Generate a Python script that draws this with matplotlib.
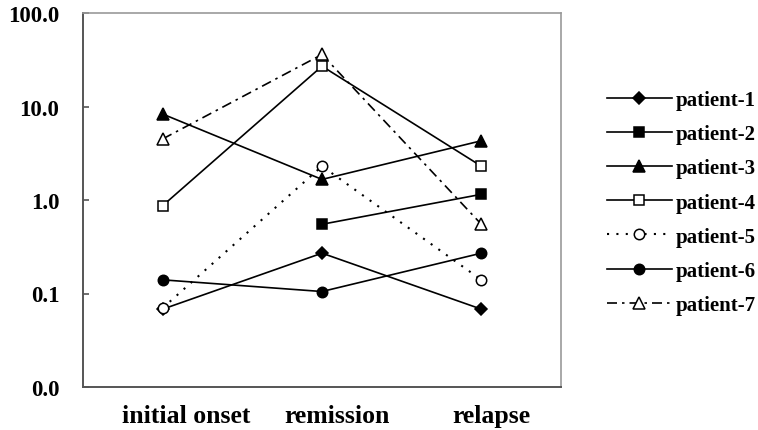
import matplotlib
matplotlib.use("Agg")
import matplotlib.pyplot as plt
import matplotlib.transforms as mtransforms
from matplotlib.ticker import FixedLocator, FixedFormatter, NullLocator

categories = ["initial onset", "remission", "relapse"]
patient_1 = [0.068, 0.27, 0.068]
patient_2 = [None, 0.55, 1.15]
patient_3 = [8.3, 1.66, 4.3]
patient_4 = [0.87, 27.0, 2.3]
patient_5 = [0.07, 2.3, 0.14]
patient_6 = [0.14, 0.105, 0.27]
patient_7 = [4.5, 36.0, 0.55]
ytick_values = [0.01, 0.1, 1, 10, 100]
ytick_labels = ["0.0", "0.1", "1.0", "10.0", "100.0"]

plt.rcParams['font.family'] = ['Liberation Serif', 'DejaVu Serif']
plt.rcParams['font.weight'] = 'bold'

fig = plt.figure(figsize=(7.58, 4.31), dpi=100)
W, H = 758, 431
ax = fig.add_axes([83 / W, (H - 388) / H, 478 / W, (388 - 14) / H])

xs = [0.5, 1.5, 2.5]

def pts(vals):
    px = [x for x, v in zip(xs, vals) if v is not None]
    py = [v for v in vals if v is not None]
    return px, py

series = [
    ("patient-1", patient_1, dict(marker='D', mfc='black', ms=6.5, ls='-')),
    ("patient-2", patient_2, dict(marker='s', mfc='black', ms=7.5, ls='-')),
    ("patient-3", patient_3, dict(marker='^', mfc='black', ms=8.5, ls='-')),
    ("patient-4", patient_4, dict(marker='s', mfc='white', ms=7.5, ls='-')),
    ("patient-5", patient_5, dict(marker='o', mfc='white', ms=7.5, ls=(0, (1, 3.5)))),
    ("patient-6", patient_6, dict(marker='o', mfc='black', ms=7.5, ls='-')),
    ("patient-7", patient_7, dict(marker='^', mfc='white', ms=8.5, ls=(0, (6, 3, 1.5, 3)))),
]

for name, vals, st in series:
    px, py = pts(vals)
    lw = 1.5 if name == "patient-5" else 1.2
    ax.plot(px, py, color='black', lw=lw, mec='black', mew=1.1, label=name, **st)

ax.set_yscale('log')
ax.set_ylim(0.01, 100)
ax.set_xlim(0, 3)
ax.yaxis.set_major_locator(FixedLocator(ytick_values))
ax.yaxis.set_major_formatter(FixedFormatter(ytick_labels))
ax.yaxis.set_minor_locator(NullLocator())
ax.set_xticks(xs)
ax.set_xticklabels(categories, fontsize=18.5, fontweight='bold')
ax.tick_params(axis='x', length=0, pad=12.5)
# the reference's category labels sit a little right of their data columns
label_shift_px = [24, 15, 10]
for lab, dx in zip(ax.get_xticklabels(), label_shift_px):
    lab.set_transform(lab.get_transform() + mtransforms.ScaledTranslation(dx / 100, 0, fig.dpi_scale_trans))
ax.tick_params(axis='y', direction='in', length=4, width=1.2, labelsize=16.5, pad=17, color='#555555')
for lab in ax.get_yticklabels():
    lab.set_fontweight('bold')

for s in ['top', 'right']:
    ax.spines[s].set_color('#999999')
    ax.spines[s].set_linewidth(1.2)
for s in ['left', 'bottom']:
    ax.spines[s].set_color('#555555')
    ax.spines[s].set_linewidth(1.4)

leg = fig.legend(loc='upper left', bbox_to_anchor=(607 / W, 1 - 91 / H), frameon=False,
                 fontsize=15, handlelength=3.1, handletextpad=0.2, labelspacing=0.68,
                 borderaxespad=0, borderpad=0)
for t in leg.get_texts():
    t.set_fontweight('bold')

fig.savefig("out.png", dpi=100)
